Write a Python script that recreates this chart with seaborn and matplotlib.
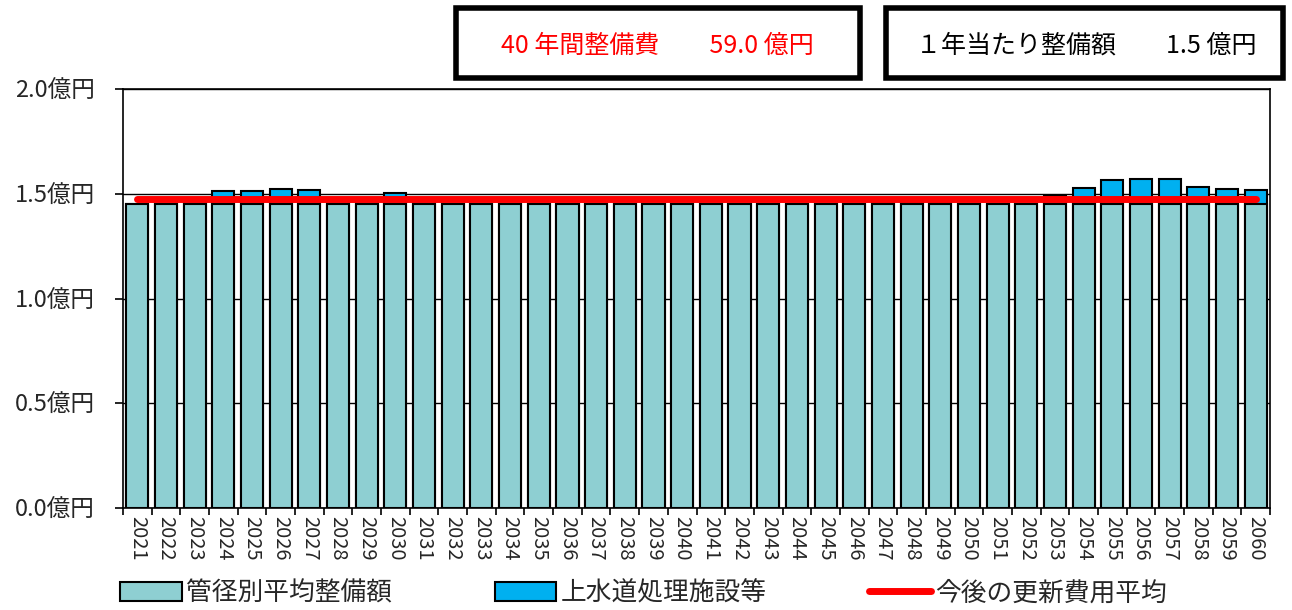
import matplotlib
matplotlib.use('Agg')

import numpy as np
import pandas as pd
import matplotlib.pyplot as plt
import seaborn as sns
from matplotlib.patches import Patch, Rectangle
from matplotlib.lines import Line2D

# data (億円)
years = [str(y) for y in range(2021, 2061)]
pipe_base = [1.45] * 40
facility = [0.00, 0.00, 0.02, 0.065, 0.065, 0.073, 0.07, 0.025, 0.025, 0.055,
            0.02, 0.00, 0.00, 0.00, 0.00, 0.00, 0.00, 0.00, 0.00, 0.00,
            0.00, 0.00, 0.00, 0.00, 0.00, 0.00, 0.005, 0.005, 0.005, 0.00,
            0.00, 0.00, 0.04, 0.079, 0.116, 0.12, 0.12, 0.084, 0.073, 0.066]
avg_value = 1.475
y_ticks = [0.0, 0.5, 1.0, 1.5, 2.0]
y_labels = ["0.0億円", "0.5億円", "1.0億円", "1.5億円", "2.0億円"]
legend_labels = ["管径別平均整備額", "上水道処理施設等", "今後の更新費用平均"]
box_texts = ["40 年間整備費　　59.0 億円", "１年当たり整備額　　1.5 億円"]

sns.set_theme(style="white")
plt.rcParams['font.family'] = ['Noto Sans CJK JP', 'DejaVu Sans']

df = pd.DataFrame({"year": years, "base": pipe_base, "facility": facility})
df["total"] = df["base"] + df["facility"]

fig = plt.figure(figsize=(12.92, 6.10), dpi=100)
ax = fig.add_axes([0.0952, 0.1672, 0.8878, 0.6868])

teal = "#8ecfd2"
blue = "#00b0f0"

sns.barplot(data=df, x="year", y="total", color=blue, saturation=1,
            width=0.77, edgecolor="black", linewidth=1.5, ax=ax, zorder=2)
sns.barplot(data=df, x="year", y="base", color=teal, saturation=1,
            width=0.77, edgecolor="black", linewidth=1.5, ax=ax, zorder=3)
ax.plot(np.arange(len(years)), [avg_value] * len(years), color="red",
        linewidth=5, zorder=4, solid_capstyle="round")

ax.set_xlim(-0.5, len(years) - 0.5)
ax.set_ylim(0, 2.0)
ax.set_yticks(y_ticks)
ax.set_yticklabels(y_labels, fontsize=17)
ax.set_xticks(np.arange(len(years)))
ax.set_xticklabels(years, rotation=-90, fontsize=14.5)
ax.set_xticks(np.arange(len(years) + 1) - 0.5, minor=True)
ax.set_xlabel("")
ax.set_ylabel("")
ax.grid(axis="y", color="black", linewidth=1, zorder=0)
ax.set_axisbelow(True)
for s in ax.spines.values():
    s.set_color("black")
    s.set_linewidth(1.2)
ax.tick_params(axis="y", length=6, width=1.2, direction="out", color="black", left=True, pad=14)
ax.tick_params(axis="x", which="major", length=0, pad=6)
ax.tick_params(axis="x", which="minor", length=5, width=1.2, color="black", bottom=True)

# summary boxes (figure fraction)
for (x0, w) in [(0.3529, 0.3127), (0.6858, 0.3073)]:
    fig.patches.append(Rectangle((x0, 0.8721), w, 0.1148, transform=fig.transFigure,
                                 facecolor="white", edgecolor="black", linewidth=4))
fig.text(0.5085, 0.9246, box_texts[0], color="red", fontsize=18, ha="center", va="center")
fig.text(0.8406, 0.9246, box_texts[1], color="black", fontsize=18, ha="center", va="center")

handles = [Patch(facecolor=teal, edgecolor="black", linewidth=1.5),
           Patch(facecolor=blue, edgecolor="black", linewidth=1.5),
           Line2D([0], [0], color="red", linewidth=5)]
fig.legend(handles, legend_labels, loc="center", bbox_to_anchor=(0.498, 0.027), ncol=3,
           frameon=False, fontsize=18.5, handlelength=2.4, handleheight=0.8,
           handletextpad=0.15, columnspacing=4.0)

fig.savefig("out.png", dpi=100)
